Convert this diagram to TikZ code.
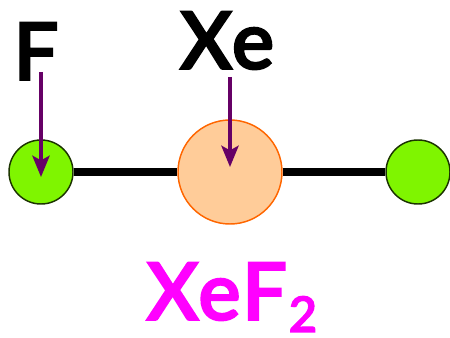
\documentclass[tikz,border=0pt]{standalone}
\usepackage{fontspec}
\setmainfont{Lato}
\newfontfamily\labelfont[FakeBold=2.2,LetterSpace=3]{Lato Semibold}
\usetikzlibrary{arrows.meta,positioning}
\definecolor{fluor}{HTML}{7FF500}
\definecolor{xenon}{HTML}{FFCC99}
\definecolor{xenonline}{HTML}{FF6600}
\definecolor{pointer}{HTML}{660066}
\definecolor{formulapink}{HTML}{FF00FF}
\tikzset{
fatom/.style={circle,draw=black!30!fluor!30!black,line width=1.1pt,fill=fluor,minimum size=48pt,inner sep=0pt},
xeatom/.style={circle,draw=xenonline,line width=1.1pt,fill=xenon,minimum size=78pt,inner sep=0pt},
bond/.style={line width=5.5pt},
pointerline/.style={draw=pointer,line width=2.4pt,-{Stealth[inset=3.5pt,length=16pt,width=13pt]}},
atomlabel/.style={inner sep=0pt,font=\labelfont\fontsize{60}{60}\selectfont}
}
\begin{document}
\begin{tikzpicture}[x=.75pt,y=-.75pt]
\useasboundingbox (0,0) rectangle (450,338);
\node[fatom](fl) at (41,172){};\node[xeatom](xe) at (230,172){};\node[fatom](fr) at (418,172){};
\draw[bond](fl)--(xe);\draw[bond](xe)--(fr);
\node[atomlabel,anchor=base](flabel) at (36,80){F};
\node[atomlabel,anchor=base](xelabel) at (227,69){Xe};
\node[atomlabel,anchor=base west,text=formulapink](formula) at (146,320){XeF\kern1pt\raisebox{-9pt}{\fontsize{37}{37}\selectfont 2}};
\coordinate(ftail) at (41,72);\coordinate(ftip) at (41,177);
\coordinate(xetail) at (230,77);\coordinate(xetip) at (230,167);
\draw[pointerline](ftail)--(ftip);\draw[pointerline](xetail)--(xetip);
\end{tikzpicture}
\end{document}
